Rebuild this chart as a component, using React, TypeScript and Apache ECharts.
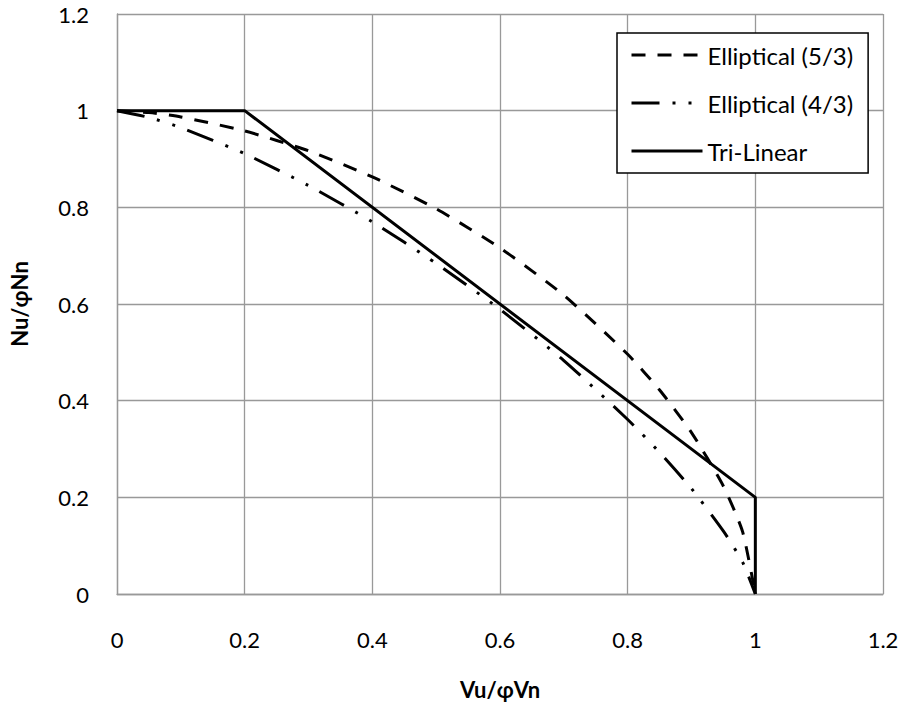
import React, { useEffect, useRef } from "react";
import * as echarts from "echarts";

const xValues = [0, 0.05, 0.1, 0.2, 0.3, 0.4, 0.5, 0.6, 0.7, 0.8, 0.85, 0.9, 0.95, 0.98, 1];
const ellip53 = [1, 0.996, 0.987, 0.958, 0.917, 0.863, 0.797, 0.716, 0.618, 0.496, 0.422, 0.334, 0.223, 0.129, 0];
const ellip43 = [1, 0.986, 0.965, 0.911, 0.845, 0.77, 0.684, 0.589, 0.483, 0.361, 0.293, 0.218, 0.13, 0.066, 0];
const triX = [0, 0.2, 1, 1];
const triY = [1, 1, 0.2, 0];
const seriesNames = ["Elliptical (5/3)", "Elliptical (4/3)", "Tri-Linear"];
const xTitle = "Vu/\u03c6Vn";
const yTitle = "Nu/\u03c6Nn";

const FONT = "Lato, 'Open Sans', sans-serif";

function pairs(xs: number[], ys: number[]) {
  return xs.map((x, i) => [x, ys[i]]);
}

export default function App() {
  const ref = useRef<HTMLDivElement>(null);
  useEffect(() => {
    document.body.style.margin = "0";
    if (!ref.current) return;
    const chart = echarts.init(ref.current, undefined, { renderer: "svg" });
    const fmt = (v: number) => String(parseFloat(v.toFixed(1)));
    const axisCommon = {
      type: "value" as const,
      min: 0,
      max: 1.2,
      interval: 0.2,
      nameLocation: "middle" as const,
      nameGap: 84,
      nameTextStyle: { fontFamily: FONT, fontSize: 22, fontWeight: "bold" as const, color: "#000" },
      axisLine: { show: true, lineStyle: { color: "#999", width: 1.3 } },
      axisTick: { show: false },
      splitLine: { show: true, lineStyle: { color: "#999", width: 1.3 } },
      axisLabel: { fontFamily: FONT, fontSize: 22, color: "#000", formatter: fmt },
    };
    chart.setOption({
      animation: false,
      backgroundColor: "#fff",
      grid: { left: 116, right: 24, top: 14, bottom: 116, containLabel: false },
      xAxis: { ...axisCommon, name: xTitle, axisLabel: { ...axisCommon.axisLabel, margin: 34 } },
      yAxis: { ...axisCommon, name: yTitle, nameGap: 87, axisLabel: { ...axisCommon.axisLabel, margin: 28 } },
      legend: {
        orient: "vertical",
        left: 617,
        top: 33,
        padding: [10, 15, 10, 13],
        itemWidth: 71,
        itemHeight: 24,
        itemGap: 24,
        backgroundColor: "#fff",
        borderColor: "#000",
        borderWidth: 1.5,
        borderRadius: 0,
        itemStyle: { opacity: 0 },
        lineStyle: { width: 3 },
        textStyle: { fontFamily: FONT, fontSize: 24, color: "#000", lineHeight: 24 },
        data: seriesNames,
      },
      series: [
        {
          name: seriesNames[0],
          type: "line",
          data: pairs(xValues, ellip53),
          smooth: 0.2,
          showSymbol: false,
          symbol: "none",
          color: "#000",
          itemStyle: { opacity: 0 },
          lineStyle: { color: "#000", width: 3, type: [14, 12] },
        },
        {
          name: seriesNames[1],
          type: "line",
          data: pairs(xValues, ellip43),
          smooth: 0.2,
          showSymbol: false,
          symbol: "none",
          color: "#000",
          itemStyle: { opacity: 0 },
          lineStyle: { color: "#000", width: 3, type: [28, 13, 3, 13, 3, 13] },
        },
        {
          name: seriesNames[2],
          type: "line",
          data: pairs(triX, triY),
          showSymbol: false,
          symbol: "none",
          color: "#000",
          itemStyle: { opacity: 0 },
          lineStyle: { color: "#000", width: 3, type: "solid" },
        },
      ],
    });
    return () => chart.dispose();
  }, []);
  return <div ref={ref} style={{ width: 907, height: 710 }} />;
}
